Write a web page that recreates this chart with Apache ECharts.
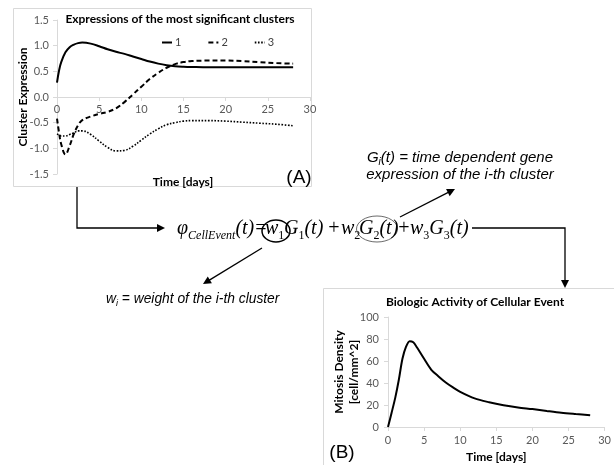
<!DOCTYPE html>
<html>
<head>
<meta charset="utf-8">
<script src="https://cdn.jsdelivr.net/npm/echarts@6/dist/echarts.min.js"></script>
<style>
html,body{margin:0;padding:0;background:#fff;}
#c{width:614px;height:465px;}
</style>
</head>
<body>
<div id="c"></div>
<script>
// ---- Data: chart (A) cluster expressions ----
const timeA = [0, 0.25, 0.5, 1, 1.5, 2, 2.5, 3, 4, 5, 6, 7, 8, 9, 10, 11, 12, 13, 14, 15, 16, 18, 20, 22, 24, 26, 28];
const cluster1 = [0.28, 0.52, 0.68, 0.87, 0.97, 1.02, 1.05, 1.06, 1.04, 0.99, 0.93, 0.88, 0.84, 0.79, 0.74, 0.69, 0.65, 0.62, 0.60, 0.59, 0.585, 0.58, 0.58, 0.58, 0.58, 0.58, 0.58];
const cluster2 = [-0.42, -0.70, -0.92, -1.12, -0.95, -0.72, -0.55, -0.45, -0.38, -0.33, -0.29, -0.22, -0.10, 0.05, 0.20, 0.35, 0.47, 0.57, 0.64, 0.68, 0.70, 0.71, 0.71, 0.70, 0.68, 0.66, 0.65];
const cluster3 = [-0.72, -0.74, -0.76, -0.76, -0.73, -0.70, -0.66, -0.66, -0.73, -0.86, -0.98, -1.05, -1.04, -0.96, -0.84, -0.72, -0.62, -0.54, -0.50, -0.47, -0.46, -0.46, -0.47, -0.49, -0.51, -0.53, -0.56];
const clusterNames = ['1', '2', '3'];

// ---- Data: chart (B) biologic activity ----
const timeB = [0, 0.5, 1, 1.5, 2, 2.5, 3, 3.5, 4, 5, 6, 7, 8, 9, 10, 12, 14, 16, 18, 20, 22, 24, 26, 28];
const mitosis = [0, 13, 26.5, 43, 62, 73, 78, 77, 72.5, 62, 52, 46, 40.5, 36, 32, 26, 22.5, 19.8, 17.8, 16.3, 14.6, 13, 11.8, 10.7];

// ---- Texts ----
const titleA = 'Expressions of the most significant clusters';
const titleB = 'Biologic Activity of Cellular Event';
const yNameA = 'Cluster Expression';
const yNameB = 'Mitosis Density\n[cell/mm^2]';
const xName = 'Time [days]';

const pairs = (xs, ys) => xs.map((x, i) => [x, ys[i]]);

const CAL = 'Lato, "Open Sans", sans-serif';
const SERIF = '"Liberation Serif", "Times New Roman", serif';
const ARIAL = '"Liberation Sans", Arial, sans-serif';
const AX = '#d9d9d9';
const LBL = '#595959';

function arrow(points, color, lw) {
  const n = points.length;
  const [x1, y1] = points[n - 2], [x2, y2] = points[n - 1];
  const dx = x2 - x1, dy = y2 - y1, L = Math.hypot(dx, dy);
  const ux = dx / L, uy = dy / L, len = 8, w = 4;
  const bx = x2 - ux * len, by = y2 - uy * len;
  const line = points.slice(0, n - 1).concat([[bx + ux, by + uy]]);
  return [
    { type: 'polyline', shape: { points: line }, style: { stroke: color, lineWidth: lw, fill: null } },
    { type: 'polygon', shape: { points: [[x2, y2], [bx - uy * w, by + ux * w], [bx + uy * w, by - ux * w]] }, style: { fill: color } }
  ];
}

// formula pieces: [rich text, left x]
const formulaRich = {
  m: { fontFamily: SERIF, fontStyle: 'italic', fontSize: 20, fill: '#000' },
  s: { fontFamily: SERIF, fontStyle: 'italic', fontSize: 12, fill: '#000', padding: [14, 0, 0, 0] },
  d: { fontFamily: SERIF, fontSize: 12, fill: '#000', padding: [14, 0, 0, 0] }
};
const formulaParts = [
  ['{m|φ}{s|CellEvent}{m|(t)}', 177],
  ['{m|=}', 254],
  ['{m|w}{d|1}', 265],
  ['{m|G}{d|1}{m|(t)}', 284],
  ['{m|+}', 327],
  ['{m|w}{d|2}', 341],
  ['{m|G}{d|2}{m|(t)}', 359],
  ['{m|+}', 397],
  ['{m|w}{d|3}{m|G}{d|3}{m|(t)}', 410]
];

const graphics = [
  { type: 'rect', shape: { x: 13.5, y: 8.5, width: 298, height: 178 }, style: { stroke: AX, fill: null, lineWidth: 1 }, z: -10 },
  { type: 'rect', shape: { x: 323.5, y: 288.5, width: 300, height: 200 }, style: { stroke: AX, fill: null, lineWidth: 1 }, z: -10 },
  { type: 'text', x: 180, y: 19, style: { text: titleA, font: 'bold 12px ' + CAL, fill: '#000', textAlign: 'center', textVerticalAlign: 'middle' } },
  { type: 'text', x: 183, y: 182, style: { text: xName, font: 'bold 12px ' + CAL, fill: '#000', textAlign: 'center', textVerticalAlign: 'middle' } },
  { type: 'text', x: 475, y: 302, style: { text: titleB, font: 'bold 12px ' + CAL, fill: '#000', textAlign: 'center', textVerticalAlign: 'middle' } },
  { type: 'text', x: 299, y: 178, style: { text: '(A)', font: '19px ' + ARIAL, fill: '#000', textAlign: 'center', textVerticalAlign: 'middle' } },
  { type: 'text', x: 342, y: 453, style: { text: '(B)', font: '19px ' + ARIAL, fill: '#000', textAlign: 'center', textVerticalAlign: 'middle' } },
  { type: 'ellipse', shape: { cx: 276, cy: 231, rx: 14, ry: 11 }, style: { stroke: '#000', lineWidth: 1.5, fill: null } },
  { type: 'ellipse', shape: { cx: 377, cy: 229, rx: 20.5, ry: 13 }, style: { stroke: '#444', lineWidth: 0.8, fill: null } },
  { type: 'text', x: 106, y: 299, style: {
      text: '{a|w}{b|i}{a| = weight of the i-th cluster}', textVerticalAlign: 'middle',
      rich: {
        a: { fontFamily: ARIAL, fontStyle: 'italic', fontSize: 13.8, fill: '#000' },
        b: { fontFamily: ARIAL, fontStyle: 'italic', fontSize: 9, fill: '#000', padding: [8, 0, 0, 0] }
      }
  } },
  { type: 'text', x: 460, y: 158, style: {
      text: '{a|G}{b|i}{a|(t) = time dependent gene}', textAlign: 'center', textVerticalAlign: 'middle',
      rich: {
        a: { fontFamily: ARIAL, fontStyle: 'italic', fontSize: 15, fill: '#000' },
        b: { fontFamily: ARIAL, fontStyle: 'italic', fontSize: 10, fill: '#000', padding: [8, 0, 0, 0] }
      }
  } },
  { type: 'text', x: 460, y: 175, style: { text: 'expression of the i-th cluster', font: 'italic 15px ' + ARIAL, fill: '#000', textAlign: 'center', textVerticalAlign: 'middle' } }
]
.concat(formulaParts.map(([t, x]) => ({ type: 'text', x: x, y: 229, style: { text: t, rich: formulaRich, textVerticalAlign: 'middle', textAlign: 'left' } })))
.concat(arrow([[77, 187], [77, 228], [165, 228]], '#000', 1.3))
.concat(arrow([[472, 228], [565, 228], [565, 288]], '#000', 1.3))
.concat(arrow([[262, 248], [203, 284]], '#000', 1.3))
.concat(arrow([[400, 217], [455, 189]], '#000', 1.3));

const axisCommon = {
  type: 'value',
  splitLine: { show: false },
  axisLine: { show: true, onZero: false, lineStyle: { color: AX, width: 1 } },
  axisTick: { show: true, length: 4, lineStyle: { color: AX } },
  axisLabel: { color: LBL, fontSize: 11, fontFamily: CAL }
};

const option = {
  animation: false,
  backgroundColor: '#fff',
  legend: {
    data: clusterNames,
    left: 161, top: 37, padding: 0,
    itemWidth: 10, itemHeight: 6, itemGap: 26,
    itemStyle: { opacity: 0, borderWidth: 0 },
    textStyle: { fontSize: 11, color: '#404040', fontFamily: CAL, padding: [0, 0, 0, -2] }
  },
  grid: [
    { left: 57, top: 20, width: 253, height: 154 },
    { left: 388, top: 317, width: 229, height: 110 }
  ],
  xAxis: [
    Object.assign({}, axisCommon, { gridIndex: 0, min: 0, max: 30, interval: 5, offset: -77,
      axisLabel: Object.assign({}, axisCommon.axisLabel, { margin: 7 }) }),
    Object.assign({}, axisCommon, { gridIndex: 1, min: 0, max: 30, interval: 5,
      axisLabel: Object.assign({}, axisCommon.axisLabel, { margin: 8 }),
      name: xName, nameLocation: 'middle', nameGap: 24, nameMoveOverlap: false,
      nameTextStyle: { fontSize: 12, fontWeight: 'bold', color: '#000', fontFamily: CAL } })
  ],
  yAxis: [
    Object.assign({}, axisCommon, { gridIndex: 0, min: -1.5, max: 1.5, interval: 0.5,
      axisLabel: Object.assign({}, axisCommon.axisLabel, { margin: 8, formatter: v => v.toFixed(1) }),
      name: yNameA, nameLocation: 'middle', nameGap: 28, nameRotate: 90, nameMoveOverlap: false,
      nameTextStyle: { fontSize: 12, fontWeight: 'bold', color: '#000', fontFamily: CAL } }),
    Object.assign({}, axisCommon, { gridIndex: 1, min: 0, max: 100, interval: 20,
      axisLabel: Object.assign({}, axisCommon.axisLabel, { margin: 9 }),
      name: yNameB, nameLocation: 'middle', nameGap: 26, nameRotate: 90, nameMoveOverlap: false,
      nameTextStyle: { fontSize: 12, fontWeight: 'bold', color: '#000', fontFamily: CAL, lineHeight: 15 } })
  ],
  series: [
    { name: clusterNames[0], type: 'line', xAxisIndex: 0, yAxisIndex: 0, data: pairs(timeA, cluster1), smooth: 0.4, symbol: 'none',
      lineStyle: { color: '#000', width: 2 }, itemStyle: { color: '#000' } },
    { name: clusterNames[1], type: 'line', xAxisIndex: 0, yAxisIndex: 0, data: pairs(timeA, cluster2), smooth: 0.4, symbol: 'none',
      lineStyle: { color: '#000', width: 2, type: [5, 3] }, itemStyle: { color: '#000' } },
    { name: clusterNames[2], type: 'line', xAxisIndex: 0, yAxisIndex: 0, data: pairs(timeA, cluster3), smooth: 0.4, symbol: 'none',
      lineStyle: { color: '#000', width: 1.6, type: [1.6, 1.6] }, itemStyle: { color: '#000' } },
    { name: 'B', type: 'line', xAxisIndex: 1, yAxisIndex: 1, data: pairs(timeB, mitosis), smooth: 0.3, symbol: 'none',
      lineStyle: { color: '#000', width: 2 } }
  ],
  graphic: graphics
};

const chart = echarts.init(document.getElementById('c'), null, { renderer: 'canvas' });
chart.setOption(option);
</script>
</body>
</html>
